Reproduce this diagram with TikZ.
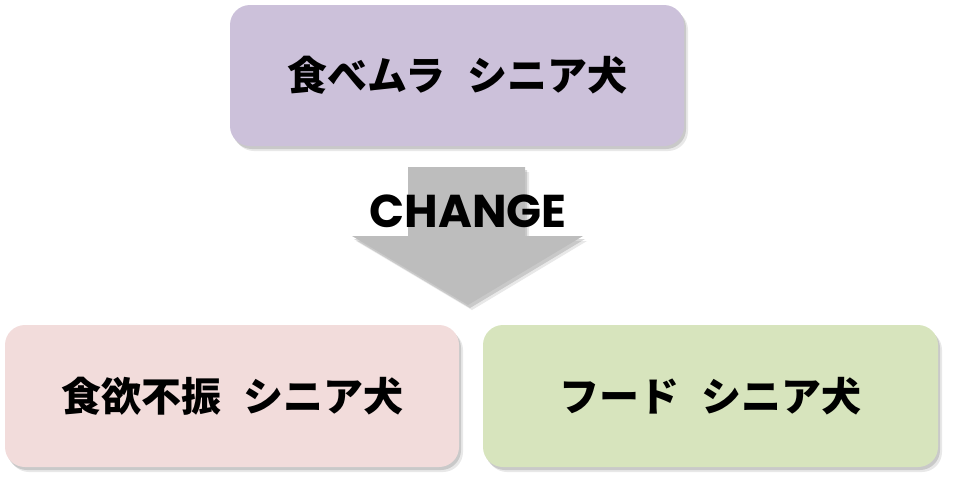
\documentclass[tikz,border=0pt]{standalone}
\usepackage{fontspec}
\newfontfamily\jpfont{Noto Sans CJK JP}
\newfontfamily\changefont{Poppins}
\usetikzlibrary{shadows}
\definecolor{topfill}{HTML}{CCC1DA}
\definecolor{leftfill}{HTML}{F2DCDB}
\definecolor{rightfill}{HTML}{D7E4BD}
\definecolor{arrowgray}{HTML}{BDBDBD}
\tikzset{
  softshadow/.style={
    drop shadow={shadow xshift=2pt, shadow yshift=-3pt, opacity=0.25, fill=black!60},
    drop shadow={shadow xshift=4pt, shadow yshift=-5pt, opacity=0.18, fill=black!50}},
  box/.style={rounded corners=20pt, draw=none, softshadow,
    font=\jpfont\bfseries\fontsize{40pt}{44pt}\selectfont, text=black,
    inner sep=0pt, align=center},
}
\begin{document}
\begin{tikzpicture}[x=1pt,y=-1pt]
\useasboundingbox (0,0) rectangle (953,483);
% top box
\node[box, fill=topfill, minimum width=454pt, minimum height=141pt] (top) at (457,75.5)
  {食べムラ\hspace{0.55em}シニア犬};
% bottom boxes
\node[box, fill=leftfill, minimum width=454pt, minimum height=142pt] (left) at (232,396)
  {食欲不振\hspace{0.55em}シニア犬};
\node[box, fill=rightfill, minimum width=455pt, minimum height=142pt] (right) at (710.5,396)
  {フード\hspace{0.55em}シニア犬};
% change arrow
\fill[arrowgray, softshadow]
  (408,167) -- (525,167) -- (525,236) -- (583,236) -- (468,305) -- (352,236) -- (408,236) -- cycle;
\node[font=\changefont\bfseries\fontsize{46pt}{50pt}\selectfont, text=black, inner sep=0pt]
  (change) at (468,211) {CHANGE};
\end{tikzpicture}
\end{document}
